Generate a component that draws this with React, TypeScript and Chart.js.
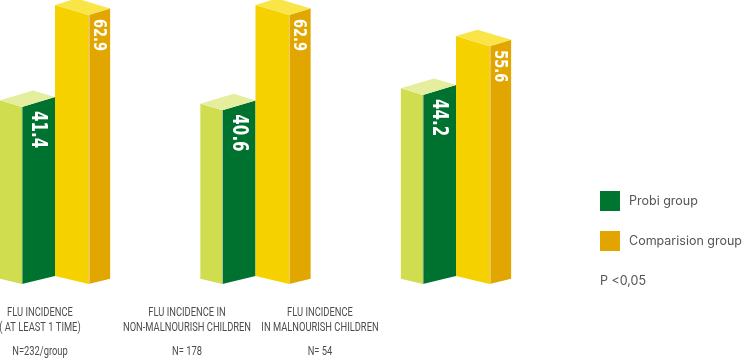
import { useEffect, useRef } from 'react';
import { Chart, registerables } from 'chart.js';

Chart.register(...registerables);

// ---- data ----
const categories = ['Flu incidence (at least 1 time)', 'Flu incidence in non-malnourish children', 'Flu incidence in malnourish children'];
const categoryLines = [
  ['FLU INCIDENCE', '( AT LEAST 1 TIME)'],
  ['FLU INCIDENCE IN', 'NON-MALNOURISH CHILDREN'],
  ['FLU INCIDENCE', 'IN MALNOURISH CHILDREN'],
];
const sampleSizes = ['N=232/group', 'N= 178', 'N= 54'];
const probiValues = [41.4, 40.6, 44.2];
const comparisonValues = [62.9, 62.9, 55.6];
const seriesNames = ['Probi group', 'Comparision group'];
const pValueNote = 'P <0,05';

// ---- styles ----
const W = 742;
const H = 358;
const Y_MAX = 66.4;
const faceStyles = [
  { light: '#d0dd4f', dark: '#00722f', top: '#e4ee9c', legend: '#00752f', frontFrac: 0.4, labelSize: 21 },
  { light: '#f6d100', dark: '#e1a600', top: '#f9e548', legend: '#e2a500', frontFrac: 0.61, labelSize: 18 },
];
const TOP_SLOPE = 0.3;
const BOTTOM_SLOPE = 0.24;
const categoryLabelCenters = [40, 187, 320];

const prismPlugin = {
  id: 'prism3d',
  afterDatasetsDraw(chart: any) {
    const ctx: CanvasRenderingContext2D = chart.ctx;
    chart.data.datasets.forEach((ds: any, di: number) => {
      const st = faceStyles[di];
      const meta = chart.getDatasetMeta(di);
      meta.data.forEach((el: any, i: number) => {
        const { x, y, base, width } = el.getProps(['x', 'y', 'base', 'width'], true);
        const xl = x - width / 2;
        const xr = x + width / 2;
        const xf = xl + width * st.frontFrac;
        const wl = xf - xl;
        const wr = xr - xf;
        const poly = (pts: number[][], color: string) => {
          ctx.beginPath();
          ctx.moveTo(pts[0][0], pts[0][1]);
          for (let k = 1; k < pts.length; k++) ctx.lineTo(pts[k][0], pts[k][1]);
          ctx.closePath();
          ctx.fillStyle = color;
          ctx.fill();
        };
        ctx.save();
        poly([[xl, y - wl * TOP_SLOPE], [xf, y], [xf, base], [xl, base - wl * BOTTOM_SLOPE]], st.light);
        poly([[xf, y], [xr, y - wr * TOP_SLOPE], [xr, base - wr * BOTTOM_SLOPE], [xf, base]], st.dark);
        poly([[xl, y - wl * TOP_SLOPE], [xf, y], [xr, y - wr * TOP_SLOPE], [xl + wr, y - (wl + wr) * TOP_SLOPE]], st.top);
        // edge highlight
        ctx.strokeStyle = 'rgba(255,255,255,0.35)';
        ctx.lineWidth = 1;
        ctx.beginPath();
        ctx.moveTo(Math.round(xf) + 0.5, y);
        ctx.lineTo(Math.round(xf) + 0.5, base);
        ctx.stroke();
        // value label
        const v = ds.data[i] as number;
        ctx.translate((xf + xr) / 2, y + 4);
        ctx.rotate(Math.PI / 2);
        ctx.scale(0.8, 1);
        ctx.font = `bold ${st.labelSize}px "DejaVu Sans Condensed", "DejaVu Sans", sans-serif`;
        ctx.fillStyle = '#ffffff';
        ctx.textAlign = 'left';
        ctx.textBaseline = 'middle';
        ctx.fillText(v.toFixed(1), 0, 1);
        ctx.restore();
      });
    });
  },
  afterDraw(chart: any) {
    const ctx: CanvasRenderingContext2D = chart.ctx;
    ctx.save();
    // category labels
    ctx.fillStyle = '#4d4d4d';
    ctx.textAlign = 'center';
    ctx.textBaseline = 'middle';
    ctx.font = '13px "Roboto", sans-serif';
    categoryLines.forEach((lines, i) => {
      const cx = categoryLabelCenters[i];
      const rows = [...lines, sampleSizes[i]];
      const ys = [313, 328, 352];
      rows.forEach((t, r) => {
        ctx.save();
        ctx.translate(cx, ys[r]);
        ctx.scale(0.72, 1);
        ctx.fillText(t, 0, 0);
        ctx.restore();
      });
    });
    // legend
    ctx.textAlign = 'left';
    ctx.font = '12.5px "Inter", sans-serif';
    seriesNames.forEach((name, i) => {
      const top = 191 + i * 40;
      ctx.fillStyle = faceStyles[i].legend;
      ctx.fillRect(600, top, 20, 20);
      ctx.fillStyle = '#555555';
      ctx.fillText(name, 629, top + 10);
    });
    ctx.fillText(pValueNote, 600, 281);
    ctx.restore();
  },
};

export default function App() {
  const ref = useRef<HTMLCanvasElement | null>(null);
  useEffect(() => {
    document.body.style.margin = '0';
    if (!ref.current) return;
    const chart = new Chart(ref.current, {
      type: 'bar',
      data: {
        labels: categories,
        datasets: [
          { label: seriesNames[0], data: probiValues, backgroundColor: 'rgba(0,0,0,0)' },
          { label: seriesNames[1], data: comparisonValues, backgroundColor: 'rgba(0,0,0,0)' },
        ],
      },
      options: {
        animation: false,
        responsive: false,
        devicePixelRatio: 1,
        layout: { padding: { left: 55, right: W - 456, top: 0, bottom: H - 284 } },
        datasets: { bar: { categoryPercentage: 0.55, barPercentage: 1 } },
        scales: {
          x: { display: false, offset: false },
          y: { display: false, min: 0, max: Y_MAX },
        },
        plugins: { legend: { display: false }, tooltip: { enabled: false } },
      },
      plugins: [prismPlugin],
    });
    return () => chart.destroy();
  }, []);
  return (
    <div style={{ position: 'absolute', left: 0, top: 0 }}>
      <canvas ref={ref} width={W} height={H} style={{ display: 'block', width: W, height: H }} />
    </div>
  );
}
